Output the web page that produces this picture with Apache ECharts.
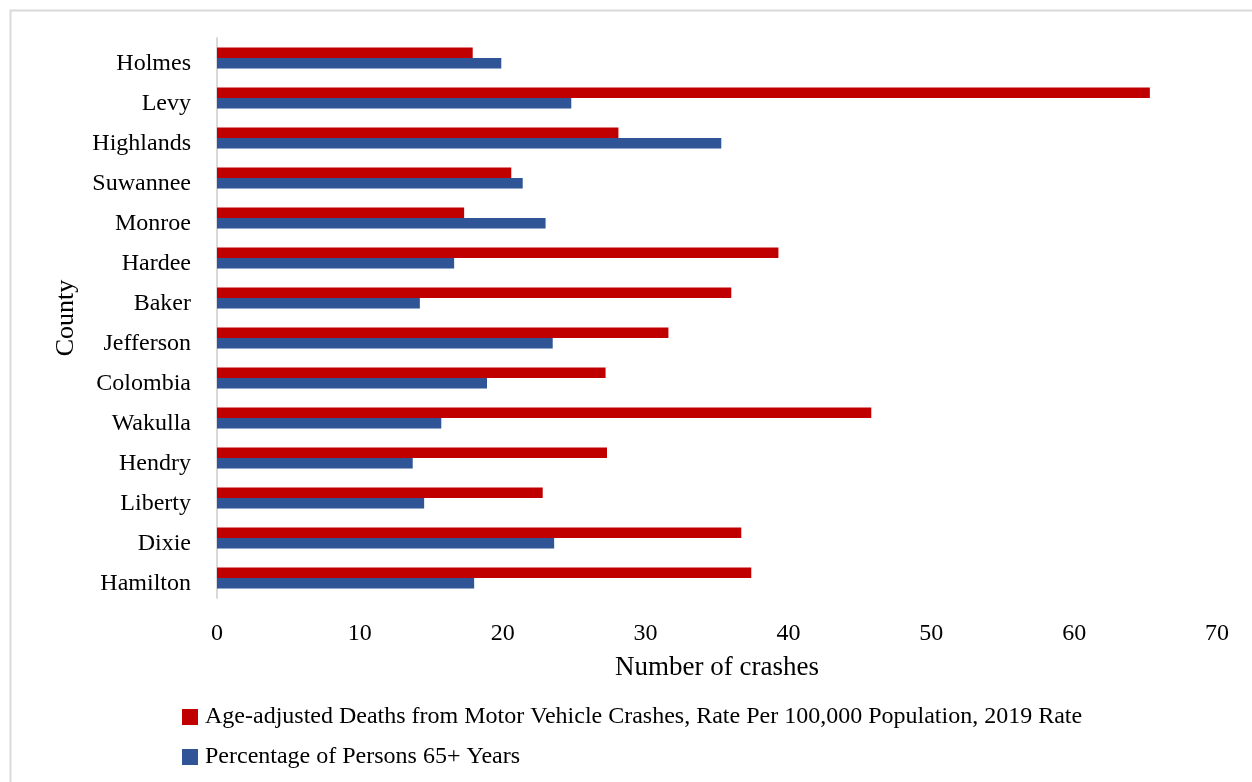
<!DOCTYPE html>
<html>
<head>
<meta charset="utf-8">
<script src="https://cdn.jsdelivr.net/npm/echarts@6/dist/echarts.min.js"></script>
<style>
  html, body { margin: 0; padding: 0; background: #fff; }
  #chart { width: 1252px; height: 782px; }
</style>
</head>
<body>
<div id="chart"></div>
<script>
// County names, top to bottom
const counties = ['Holmes', 'Levy', 'Highlands', 'Suwannee', 'Monroe', 'Hardee', 'Baker',
  'Jefferson', 'Colombia', 'Wakulla', 'Hendry', 'Liberty', 'Dixie', 'Hamilton'];

// Age-adjusted deaths from motor vehicle crashes, rate per 100,000 (2019)
const crashDeathRate = [17.9, 65.3, 28.1, 20.6, 17.3, 39.3, 36.0, 31.6, 27.2, 45.8, 27.3, 22.8, 36.7, 37.4];

// Percentage of persons aged 65 and over
const pctOver65 = [19.9, 24.8, 35.3, 21.4, 23.0, 16.6, 14.2, 23.5, 18.9, 15.7, 13.7, 14.5, 23.6, 18.0];

const seriesNames = [
  'Age-adjusted Deaths from Motor Vehicle Crashes, Rate Per 100,000 Population, 2019 Rate',
  'Percentage of Persons 65+ Years'
];

const FONT = '"Liberation Serif", "Times New Roman", serif';

const chart = echarts.init(document.getElementById('chart'), null, { renderer: 'canvas' });

chart.setOption({
  backgroundColor: '#ffffff',
  animation: false,
  textStyle: { fontFamily: FONT, color: '#000' },
  graphic: [{
    type: 'rect',
    left: 8, top: 8,
    shape: { width: 1400, height: 900 },
    style: { fill: 'none', stroke: '#d9d9d9', lineWidth: 2 },
    silent: true,
    z: -1
  }],
  grid: { left: 217, right: 35, top: 38, bottom: 184, containLabel: false },
  legend: {
    orient: 'vertical',
    left: 182,
    top: 703,
    padding: 0,
    itemWidth: 16,
    itemHeight: 16,
    itemGap: 12,
    icon: 'rect',
    textStyle: { fontFamily: FONT, fontSize: 24, lineHeight: 26, color: '#000', padding: [2, 0, 0, 2] },
    data: seriesNames
  },
  xAxis: {
    type: 'value',
    min: 0,
    max: 70,
    interval: 10,
    name: 'Number of crashes',
    nameLocation: 'middle',
    nameGap: 56,
    nameTextStyle: { fontFamily: FONT, fontSize: 27, color: '#000' },
    axisLine: { show: false },
    axisTick: { show: false },
    splitLine: { show: false },
    axisLabel: { fontFamily: FONT, fontSize: 24, color: '#000', margin: 24 }
  },
  yAxis: {
    type: 'category',
    inverse: true,
    data: counties,
    name: 'County',
    nameLocation: 'middle',
    nameRotate: 90,
    nameGap: 138,
    nameTextStyle: { fontFamily: FONT, fontSize: 26, color: '#000' },
    axisLine: { show: true, lineStyle: { color: '#d9d9d9', width: 2 } },
    axisTick: { show: false },
    splitLine: { show: false },
    axisLabel: {
      fontFamily: FONT, fontSize: 24, color: '#000', margin: 26,
      verticalAlign: 'top', lineHeight: 12
    }
  },
  series: [
    {
      name: seriesNames[0],
      type: 'bar',
      data: crashDeathRate,
      barWidth: 10.5,
      barGap: '0%',
      itemStyle: { color: '#c00000' }
    },
    {
      name: seriesNames[1],
      type: 'bar',
      data: pctOver65,
      barWidth: 10.5,
      barGap: '0%',
      itemStyle: { color: '#2f5597' }
    }
  ]
});
</script>
</body>
</html>
